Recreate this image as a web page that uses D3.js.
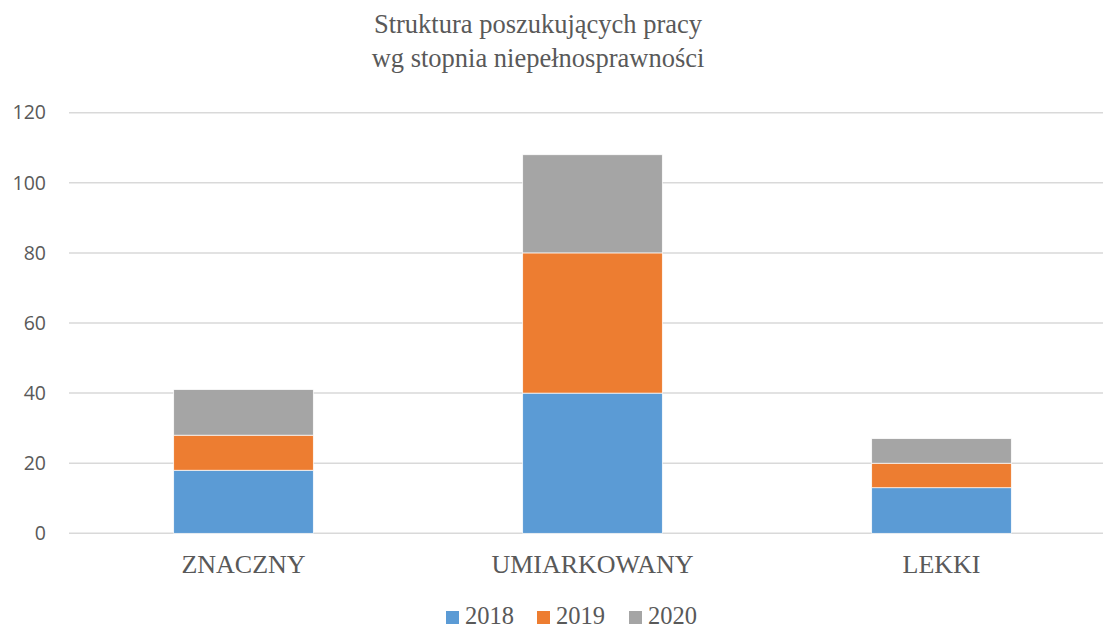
<!DOCTYPE html>
<html>
<head>
<meta charset="utf-8">
<script src="https://cdn.jsdelivr.net/npm/d3@7"></script>
<style>
	body { margin: 0; background: #fff; }
	svg { display: block; }
</style>
</head>
<body>
<script>
	var w = 1103,
		h = 630;

	// data
	var categories = ["ZNACZNY", "UMIARKOWANY", "LEKKI"];
	var years = ["2018", "2019", "2020"];
	var v2018 = [18, 40, 13];
	var v2019 = [10, 40, 7];
	var v2020 = [13, 28, 7];
	var yTicks = [0, 20, 40, 60, 80, 100, 120];
	var colors = ["#5B9BD5", "#ED7D31", "#A5A5A5"];
	var title_lines = ["Struktura poszukujących pracy", "wg stopnia niepełnosprawności"];

	var text_color = "#595959";

	var svg = d3.select("body")
		.append("svg")
		.attr("width", w)
		.attr("height", h);

	var x = d3.scaleBand()
		.domain(categories)
		.range([69, 1116])
		.paddingInner(0.6)
		.paddingOuter(0.3);

	var y = d3.scaleLinear()
		.domain([0, 120])
		.range([533.3, 112.7]);

	// gridlines
	svg.append("g")
		.selectAll("line")
		.data(yTicks)
		.enter()
		.append("line")
		.attr("x1", 69)
		.attr("x2", 1116)
		.attr("y1", function(d) { return y(d); })
		.attr("y2", function(d) { return y(d); })
		.attr("stroke", "#D9D9D9")
		.attr("stroke-width", 1.5);

	// y axis labels
	var yAxis = d3.axisLeft(y)
		.tickValues(yTicks)
		.tickSize(0)
		.tickPadding(23);
	var gy = svg.append("g")
		.attr("transform", "translate(69,0)")
		.call(yAxis);
	gy.select(".domain").remove();
	gy.selectAll("text")
		.attr("fill", text_color)
		.style("font-family", "'Open Sans', sans-serif")
		.style("font-size", "19.5px");

	// stacked bars
	var rows = categories.map(function(c, i) {
		return { cat: c, "2018": v2018[i], "2019": v2019[i], "2020": v2020[i] };
	});
	var stack = d3.stack().keys(years)(rows);

	svg.append("g")
		.selectAll("g")
		.data(stack)
		.enter()
		.append("g")
		.attr("fill", function(d, i) { return colors[i]; })
		.selectAll("rect")
		.data(function(d) { return d; })
		.enter()
		.append("rect")
		.attr("x", function(d) { return x(d.data.cat); })
		.attr("width", x.bandwidth())
		.attr("y", function(d) { return y(d[1]); })
		.attr("height", function(d) { return y(d[0]) - y(d[1]); })
		.attr("stroke", "#fff")
		.attr("stroke-width", 0.7);

	// x axis labels
	var xAxis = d3.axisBottom(x).tickSize(0).tickPadding(0);
	var gx = svg.append("g")
		.attr("transform", "translate(0,533)")
		.call(xAxis);
	gx.select(".domain").remove();
	gx.selectAll("text")
		.attr("dy", null)
		.attr("y", 40)
		.attr("fill", text_color)
		.style("font-family", "'Liberation Serif', 'Times New Roman', serif")
		.style("font-size", "26px");

	// title
	svg.append("text")
		.attr("x", 538)
		.attr("text-anchor", "middle")
		.attr("fill", text_color)
		.style("font-family", "'Liberation Serif', 'Times New Roman', serif")
		.style("font-size", "26.5px")
		.selectAll("tspan")
		.data(title_lines)
		.enter()
		.append("tspan")
		.attr("x", 538)
		.attr("y", function(d, i) { return 33 + i * 34; })
		.text(function(d) { return d; });

	// legend
	var legend_x = [446, 537, 629];
	var lg = svg.append("g")
		.selectAll("g")
		.data(years)
		.enter()
		.append("g")
		.attr("transform", function(d, i) { return "translate(" + legend_x[i] + ",0)"; });
	lg.append("rect")
		.attr("x", 0)
		.attr("y", 611)
		.attr("width", 13)
		.attr("height", 13)
		.attr("fill", function(d, i) { return colors[i]; });
	lg.append("text")
		.attr("x", 19)
		.attr("y", 624)
		.attr("fill", text_color)
		.style("font-family", "'Liberation Serif', 'Times New Roman', serif")
		.style("font-size", "24.5px")
		.text(function(d) { return d; });
</script>
</body>
</html>
